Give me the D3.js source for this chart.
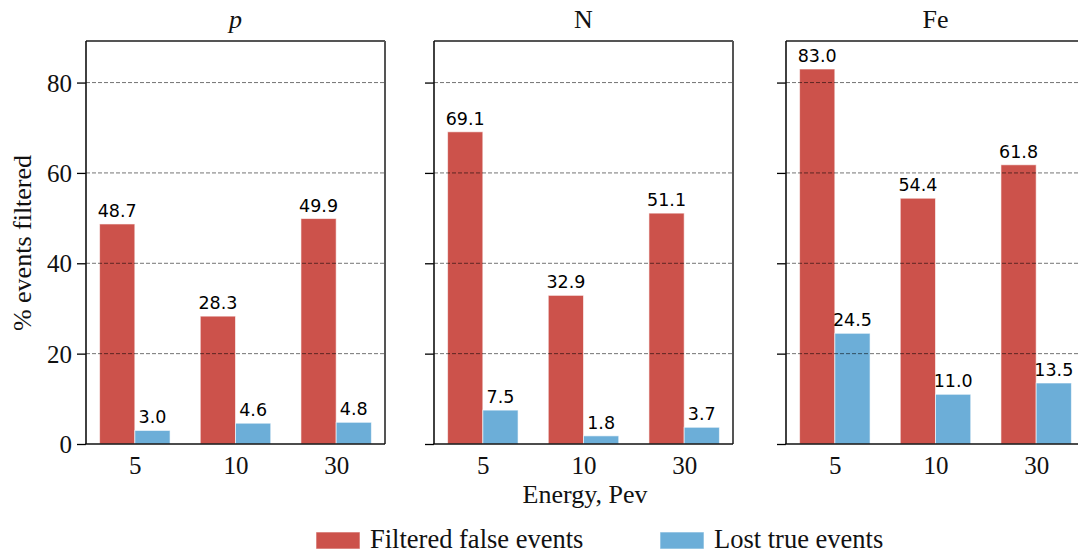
<!DOCTYPE html>
<html>
<head>
<meta charset="utf-8">
<script src="https://cdn.jsdelivr.net/npm/d3@7"></script>
<style>
  html, body { margin: 0; padding: 0; background: #fff; }
  svg { display: block; }
</style>
</head>
<body>
<script>
// ---- data ----
const elements = ["p", "N", "Fe"];
const energies = ["5", "10", "30"];
const filteredFalse = [
  [48.7, 28.3, 49.9],   // p
  [69.1, 32.9, 51.1],   // N
  [83.0, 54.4, 61.8]    // Fe
];
const lostTrue = [
  [3.0, 4.6, 4.8],
  [7.5, 1.8, 3.7],
  [24.5, 11.0, 13.5]
];
const yTicks = [0, 20, 40, 60, 80];
const seriesNames = ["Filtered false events", "Lost true events"];
const seriesColors = ["#CC524B", "#6CAED8"];

// ---- layout ----
const W = 1078, H = 554;
const panelLeft = [86, 434, 786];
const panelW = 299;
const plotTop = 41, plotBottom = 444;
const serif = "'Liberation Serif', 'Times New Roman', serif";
const sans = "'DejaVu Sans', sans-serif";

const svg = d3.select("body").append("svg").attr("width", W).attr("height", H);

const x = d3.scaleLinear().domain([-0.485, 2.485]).range([0, panelW]);
const y = d3.scaleLinear().domain([0, 89.2]).range([plotBottom, plotTop]);
const barW = 0.35;

elements.forEach((el, pi) => {
  const g = svg.append("g").attr("transform", `translate(${panelLeft[pi]},0)`);

  const rows = energies.map((e, i) => ({ i, f: filteredFalse[pi][i], l: lostTrue[pi][i] }));
  [ ["f", -barW, 0], ["l", 0, 1] ].forEach(([key, off, si]) => {
    g.selectAll(".bar-" + key).data(rows).enter().append("rect")
      .attr("x", d => x(d.i + off))
      .attr("width", d => x(d.i + off + barW) - x(d.i + off))
      .attr("y", d => y(d[key]))
      .attr("height", d => y(0) - y(d[key]))
      .attr("fill", seriesColors[si])
      .attr("stroke", "#fff").attr("stroke-opacity", 0.6).attr("stroke-width", 1);
    g.selectAll(".lab-" + key).data(rows).enter().append("text")
      .attr("x", d => x(d.i + off + barW / 2))
      .attr("y", d => y(d[key]) - 7)
      .attr("text-anchor", "middle")
      .attr("font-family", sans).attr("font-size", 17.5).attr("fill", "#000")
      .text(d => d[key].toFixed(1));
  });

  // grid lines (drawn over bars)
  g.selectAll(".grid").data(yTicks.filter(t => t > 0)).enter().append("line")
    .attr("x1", 0).attr("x2", panelW)
    .attr("y1", d => y(d)).attr("y2", d => y(d))
    .attr("stroke", "#000").attr("stroke-opacity", 0.55)
    .attr("stroke-width", 1).attr("stroke-dasharray", "4,2");

  // y axis
  const yAxis = d3.axisLeft(y).tickValues(yTicks).tickSize(9).tickPadding(5)
    .tickFormat(pi === 0 ? d3.format("d") : () => "");
  const ya = g.append("g").call(yAxis);
  ya.select(".domain").remove();
  ya.selectAll(".tick line").attr("stroke", "#000").attr("stroke-width", 1.3);
  ya.selectAll(".tick text").attr("font-family", serif).attr("font-size", 25)
    .attr("fill", "#111").attr("dy", "0.34em");

  // x axis labels
  const xAxis = d3.axisBottom(x).tickValues([0, 1, 2]).tickSize(0).tickPadding(12)
    .tickFormat(i => energies[i]);
  const xa = g.append("g").attr("transform", `translate(0,${plotBottom})`).call(xAxis);
  xa.select(".domain").remove();
  xa.selectAll(".tick text").attr("font-family", serif).attr("font-size", 25)
    .attr("fill", "#111");

  // spines
  g.append("line").attr("x1", 0).attr("x2", panelW).attr("y1", plotTop).attr("y2", plotTop)
    .attr("stroke", "#555").attr("stroke-width", 2);
  g.append("line").attr("x1", panelW).attr("x2", panelW).attr("y1", plotTop).attr("y2", plotBottom)
    .attr("stroke", "#555").attr("stroke-width", 2);
  g.append("line").attr("x1", 0).attr("x2", 0).attr("y1", plotTop).attr("y2", plotBottom)
    .attr("stroke", "#111").attr("stroke-width", 1.6);
  g.append("line").attr("x1", -0.8).attr("x2", panelW).attr("y1", plotBottom).attr("y2", plotBottom)
    .attr("stroke", "#111").attr("stroke-width", 1.6);

  // title
  g.append("text").attr("x", panelW / 2).attr("y", 28)
    .attr("text-anchor", "middle").attr("font-family", serif).attr("font-size", 26)
    .attr("font-style", el === "p" ? "italic" : "normal").attr("fill", "#111")
    .text(el);
});

// axis titles
svg.append("text").attr("x", 585).attr("y", 503).attr("text-anchor", "middle")
  .attr("font-family", serif).attr("font-size", 26).attr("fill", "#111")
  .text("Energy, Pev");
svg.append("text").attr("transform", "translate(31,243) rotate(-90)")
  .attr("text-anchor", "middle")
  .attr("font-family", serif).attr("font-size", 26).attr("fill", "#111")
  .text("% events filtered");

// legend
const legendX = [316, 660];
seriesNames.forEach((name, i) => {
  svg.append("rect").attr("x", legendX[i]).attr("y", 532).attr("width", 44).attr("height", 17)
    .attr("fill", seriesColors[i]).attr("stroke", "#fff").attr("stroke-opacity", 0.6);
  svg.append("text").attr("x", legendX[i] + 54).attr("y", 548)
    .attr("font-family", serif).attr("font-size", 26.5).attr("fill", "#111")
    .text(name);
});
</script>
</body>
</html>
